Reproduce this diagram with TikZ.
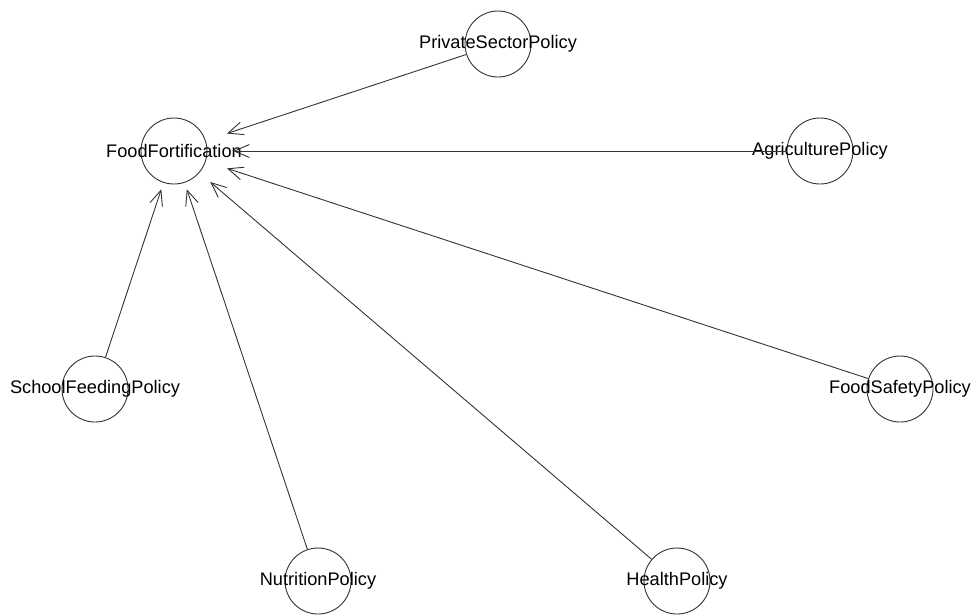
\documentclass[tikz,border=0pt]{standalone}
\usepackage{fontspec}
\setmainfont{Liberation Sans}
\usetikzlibrary{arrows.meta,shapes.geometric}
\begin{document}
\begin{tikzpicture}[x=1pt,y=-1pt,
  vert/.style={circle,draw=black!80,line width=0.9pt,minimum size=66pt,inner sep=0pt,font=\fontsize{18.2}{20}\selectfont},
  lab/.style={font=\fontsize{18.2}{20}\selectfont,inner sep=0pt},
  tgt/.style={ellipse,minimum width=118pt,minimum height=78pt,inner sep=0pt},
  edge/.style={draw=black!80,line width=0.9pt,-{Straight Barb[length=15pt,width=13pt,line width=0.9pt]}}]
\useasboundingbox (0,0) rectangle (973,614);
\node[vert] (ff) at (174,151) {};
\node[tgt] (ffb) at (174,151) {};
\node[vert] (ps) at (498,44) {};
\node[vert] (ag) at (820,151) {};
\node[vert] (sf) at (95,389) {};
\node[vert] (fs) at (900,389) {};
\node[vert] (np) at (318,581) {};
\node[vert] (hp) at (677,581) {};
\node[lab] at (ff) {FoodFortification};
\node[lab] at (ps) {PrivateSectorPolicy};
\node[lab] at (ag) {AgriculturePolicy};
\node[lab] at (sf) {SchoolFeedingPolicy};
\node[lab] at (fs) {FoodSafetyPolicy};
\node[lab] at (np) {NutritionPolicy};
\node[lab] at (hp) {HealthPolicy};
\draw[edge] (ps) -- (ffb);
\draw[edge] (ag) -- (ffb);
\draw[edge] (sf) -- (ffb);
\draw[edge] (fs) -- (ffb);
\draw[edge] (np) -- (ffb);
\draw[edge] (hp) -- (ffb);
\end{tikzpicture}
\end{document}
